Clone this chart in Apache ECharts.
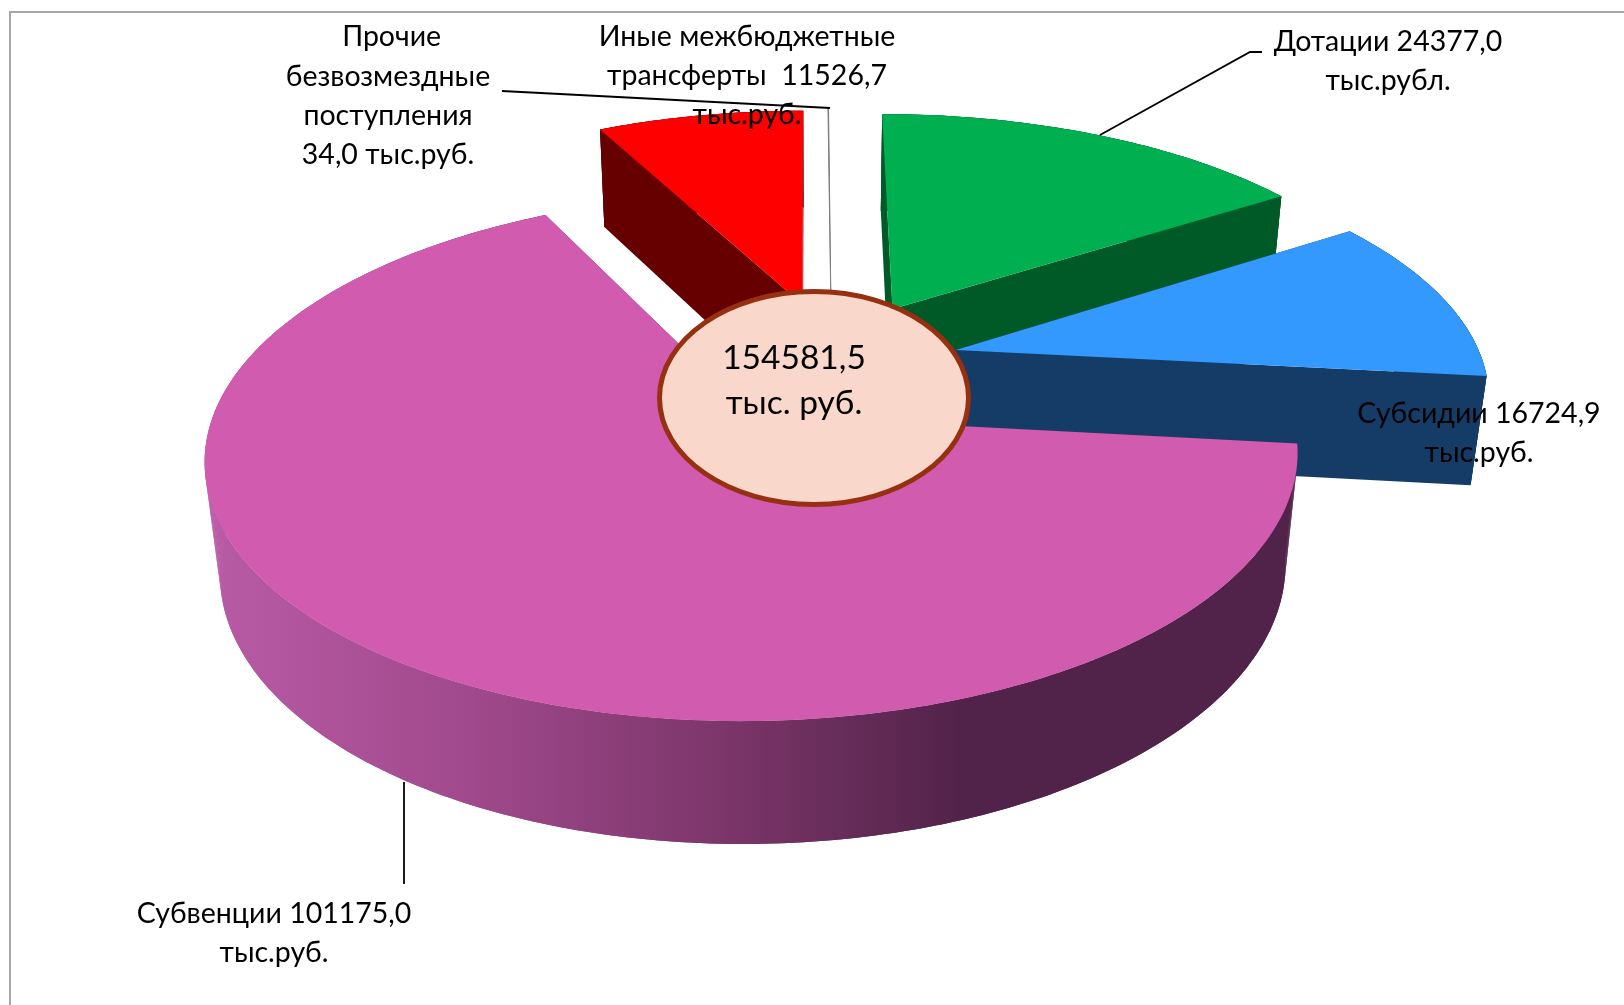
<!DOCTYPE html>
<html>
<head>
<meta charset="utf-8">
<style>
  html, body { margin: 0; padding: 0; background: #fff; }
  #chart { width: 1624px; height: 1005px; }
</style>
<script src="https://cdn.jsdelivr.net/npm/echarts@6/dist/echarts.min.js"></script>
</head>
<body>
<div id="chart"></div>
<script>
// Datas
const categories = ['Дотации', 'Субсидии', 'Субвенции', 'Иные межбюджетные трансферты', 'Прочие безвозмездные поступления']
const values = [24377.0, 16724.9, 101175.0, 11526.7, 34.0]
const totalLabel = '154581,5\nтыс. руб.'
const labels = [
  'Дотации 24377,0\nтыс.рубл.',
  'Субсидии 16724,9\nтыс.руб.',
  'Субвенции 101175,0\nтыс.руб.',
  'Иные межбюджетные\nтрансферты  11526,7\nтыс.руб.',
  ' Прочие\nбезвозмездные\nпоступления\n34,0 тыс.руб.',
]

// Chart Setting
const topColors = ['#00b050', '#3399ff', '#d15bae', '#ff0000', '#7f7f7f']
const wallColors = ['#005a27', '#143c66', '#52234a', '#660000', '#7f7f7f']
// how far each slice is pulled out of the pie, in radii (right, back)
const explode = [[0.278, 0.443], [0.395, 0.265], [0.011, 0], [0.101, 0.463], [0.157, 0.479]]
const radius = [[1, 1], [1, 1], [0.99, 1], [1, 1], [1, 1]]
const drawOrder = [1, 3, 4, 2, 5]
const labelPos = [[1388, 61], [1479, 433], [274, 933], [747, 76], [388, 96]]

// tilted pie with a bit of perspective, lines going back meet above x = vx
const view = { cx: 746.7, cy: 415.3, vx: 813, rx: 544.8, ry: 256.9, h: 113.9, back: 0.16, down: 0.025 }
const u0 = (view.vx - view.cx) / view.rx

function project(u, v, z) {
  const w = 1 + view.back * v + view.down * z
  return [view.vx + view.rx * (u - u0) / w, view.cy + (view.h * z - view.ry * v) / w]
}

const total = values.reduce((a, b) => a + b, 0)

function renderSlice(params, api) {
  const i = params.dataIndex
  let sum = 0
  for (let k = 0; k < i; k++) sum += values[k]
  const a0 = sum / total * Math.PI * 2
  const a1 = (sum + api.value(0)) / total * Math.PI * 2
  const [ex, ey] = explode[i]
  const [ru, rv] = radius[i]

  const steps = Math.max(2, Math.ceil((a1 - a0) * 60))
  const rim = []
  for (let s = 0; s <= steps; s++) {
    const a = a0 + (a1 - a0) * s / steps
    rim.push([ex + ru * Math.sin(a), ey + rv * Math.cos(a)])
  }
  const first = rim[0]
  const last = rim[rim.length - 1]
  const at = (p, z) => project(p[0], p[1], z)

  const wallFill = i === 2 ? {
    type: 'linear', global: true, x: 210, y: 0, x2: 960, y2: 0,
    colorStops: [
      { offset: 0, color: '#b95ba6' },
      { offset: 0.35, color: '#a0498c' },
      { offset: 0.7, color: '#7a3568' },
      { offset: 1, color: '#52234a' },
    ],
  } : wallColors[i]

  const poly = (points, fill, extra) => ({
    type: 'polygon',
    z2: drawOrder[i],
    shape: { points },
    style: Object.assign({ fill }, extra),
  })

  const children = []
  if (i !== 4) {
    children.push(poly([at([ex, ey], 0), at(first, 0), at(first, 1), at([ex, ey], 1)], wallColors[i]))
    children.push(poly([at([ex, ey], 0), at(last, 0), at(last, 1), at([ex, ey], 1)], wallColors[i]))
    // small quads fill the notch at the silhouette, the strip on top hides their seams
    for (let s = 0; s < rim.length - 1; s++) {
      children.push(poly([at(rim[s], 0), at(rim[s + 1], 0), at(rim[s + 1], 1), at(rim[s], 1)], wallFill))
    }
    children.push(poly(rim.map(p => at(p, 0)).concat(rim.slice().reverse().map(p => at(p, 1))), wallFill))
  }
  const top = [at([ex, ey], 0)].concat(rim.map(p => at(p, 0)))
  children.push(poly(top, topColors[i], i === 4 ? { stroke: topColors[i], lineWidth: 1 } : {}))
  return { type: 'group', children }
}

const chart = echarts.init(document.getElementById('chart'), null, { renderer: 'canvas' })

const textFont = { fontFamily: 'Lato, "Noto Sans", sans-serif', fill: '#000' }

function leader(points) {
  return {
    type: 'polyline',
    z: 20,
    shape: { points },
    style: { fill: null, stroke: '#000', lineWidth: 1.8 },
  }
}

chart.setOption({
  animation: false,
  backgroundColor: '#fff',
  series: [{
    type: 'custom',
    coordinateSystem: 'none',
    name: 'Безвозмездные поступления',
    data: categories.map((name, i) => ({ name, value: [values[i]] })),
    renderItem: renderSlice,
    silent: true,
  }],
  graphic: [
    // frame
    { type: 'polyline', z: 5, shape: { points: [[10, 1005], [10, 12], [1624, 12]] }, style: { fill: null, stroke: '#a6a6a6', lineWidth: 2 } },
    leader([[502, 91], [830, 108]]),
    leader([[1262, 52], [1250, 52], [1100, 135]]),
    leader([[404, 782], [404, 884]]),
    {
      type: 'ellipse',
      z: 30,
      shape: { cx: 814, cy: 398, rx: 154.5, ry: 106.5 },
      style: { fill: '#f9d8cb', stroke: '#963010', lineWidth: 5 },
    },
    {
      type: 'text',
      z: 31,
      x: 794,
      y: 381,
      style: Object.assign({ text: totalLabel, fontSize: 33.5, lineHeight: 45, align: 'center', verticalAlign: 'middle' }, textFont),
    },
  ].concat(labels.map((text, i) => ({
    type: 'text',
    z: 40,
    x: labelPos[i][0],
    y: labelPos[i][1],
    style: Object.assign({ text, fontSize: 28.5, lineHeight: 39.3, align: 'center', verticalAlign: 'middle' }, textFont),
  }))),
})
</script>
</body>
</html>
